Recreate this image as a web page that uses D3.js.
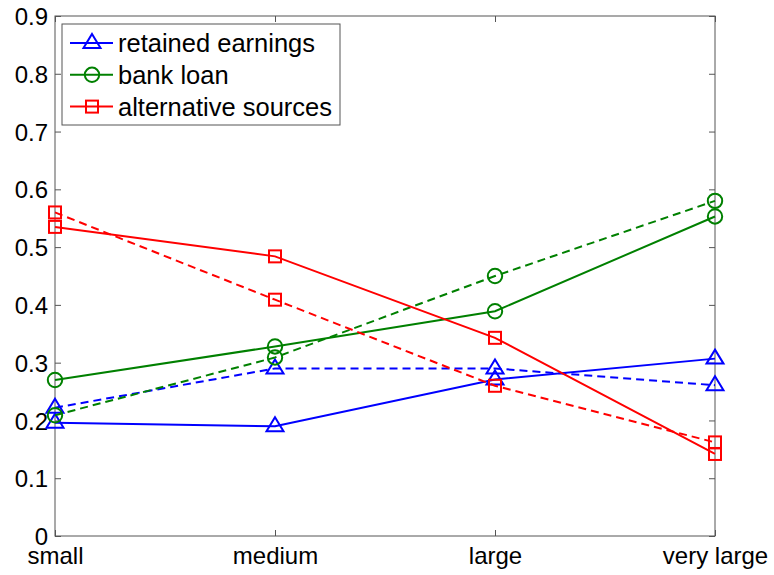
<!DOCTYPE html>
<html>
<head>
<meta charset="utf-8">
<script src="https://cdn.jsdelivr.net/npm/d3@7"></script>
<style>
  html, body { margin: 0; padding: 0; background: #fff; }
  svg text { font-family: "Liberation Sans", Arial, Helvetica, sans-serif; }
</style>
</head>
<body>
<svg id="chart" width="774" height="575"></svg>
<script>
// Firm size categories on the x axis
const categories = ["small", "medium", "large", "very large"];
const yTicks = [0, 0.1, 0.2, 0.3, 0.4, 0.5, 0.6, 0.7, 0.8, 0.9];

// Shares of financing sources (solid = one sample, dashed = the other)
const retainedSolid = [0.196, 0.190, 0.271, 0.307];
const retainedDashed = [0.222, 0.290, 0.290, 0.261];
const bankSolid = [0.270, 0.328, 0.389, 0.553];
const bankDashed = [0.209, 0.309, 0.450, 0.580];
const altSolid = [0.535, 0.484, 0.343, 0.142];
const altDashed = [0.560, 0.409, 0.260, 0.162];

const seriesNames = ["retained earnings", "bank loan", "alternative sources"];

const series = [
  { name: seriesNames[0], values: retainedSolid, color: "#0000ff", marker: "triangle", dashed: false },
  { name: seriesNames[0], values: retainedDashed, color: "#0000ff", marker: "triangle", dashed: true },
  { name: seriesNames[1], values: bankSolid, color: "#008000", marker: "circle", dashed: false },
  { name: seriesNames[1], values: bankDashed, color: "#008000", marker: "circle", dashed: true },
  { name: seriesNames[2], values: altSolid, color: "#ff0000", marker: "square", dashed: false },
  { name: seriesNames[2], values: altDashed, color: "#ff0000", marker: "square", dashed: true }
];

const svg = d3.select("#chart");
const plotLeft = 55, plotRight = 715, plotTop = 16, plotBottom = 536;

const x = d3.scalePoint().domain(categories).range([plotLeft, plotRight]);
const y = d3.scaleLinear().domain([0, 0.9]).range([plotBottom, plotTop]);

const axisColor = "#555";

// Frame
svg.append("rect")
  .attr("x", plotLeft).attr("y", plotTop)
  .attr("width", plotRight - plotLeft).attr("height", plotBottom - plotTop)
  .attr("fill", "none").attr("stroke", axisColor).attr("stroke-width", 1);

// Axes with inward ticks
const yAxisL = svg.append("g").attr("transform", `translate(${plotLeft},0)`)
  .call(d3.axisLeft(y).tickValues(yTicks).tickSize(-6).tickPadding(7).tickFormat(d => d === 0 ? "0" : d3.format(".1f")(d)));
const yAxisR = svg.append("g").attr("transform", `translate(${plotRight},0)`)
  .call(d3.axisRight(y).tickValues(yTicks).tickSize(-6).tickFormat(""));
const xAxisB = svg.append("g").attr("transform", `translate(0,${plotBottom})`)
  .call(d3.axisBottom(x).tickSize(-6));
const xAxisT = svg.append("g").attr("transform", `translate(0,${plotTop})`)
  .call(d3.axisTop(x).tickSize(-6).tickFormat(""));

[yAxisL, yAxisR, xAxisB, xAxisT].forEach(g => {
  g.select(".domain").remove();
  g.selectAll(".tick line").attr("stroke", axisColor);
});
yAxisL.selectAll("text").attr("font-size", 24).attr("fill", "#000").attr("dy", "0.36em");
xAxisB.selectAll("text").attr("font-size", 24).attr("fill", "#000").attr("y", 28).attr("dy", 0);

// Marker drawing
function drawMarker(g, type, color) {
  if (type === "triangle") {
    g.append("path").attr("d", "M0,-9 L8.5,5 L-8.5,5 Z");
  } else if (type === "circle") {
    g.append("circle").attr("r", 7.2);
  } else {
    g.append("rect").attr("x", -6).attr("y", -6).attr("width", 12).attr("height", 12);
  }
  g.selectAll("*").attr("fill", "none").attr("stroke", color).attr("stroke-width", 2);
}

const line = d3.line().x((d, i) => x(categories[i])).y(d => y(d));

series.forEach(s => {
  const g = svg.append("g");
  g.append("path")
    .attr("d", line(s.values))
    .attr("fill", "none")
    .attr("stroke", s.color)
    .attr("stroke-width", 2)
    .attr("stroke-dasharray", s.dashed ? "8,5" : null);
  s.values.forEach((v, i) => {
    const m = g.append("g").attr("transform", `translate(${x(categories[i])},${y(v)})`);
    drawMarker(m, s.marker, s.color);
  });
});

// Legend
const legend = svg.append("g");
legend.append("rect")
  .attr("x", 62).attr("y", 24).attr("width", 278).attr("height", 101)
  .attr("fill", "#fff").attr("stroke", axisColor).attr("stroke-width", 1);
const legendItems = [series[0], series[2], series[4]];
legendItems.forEach((s, i) => {
  const cy = 43 + i * 31.8;
  legend.append("line")
    .attr("x1", 70).attr("x2", 113).attr("y1", cy).attr("y2", cy)
    .attr("stroke", s.color).attr("stroke-width", 2);
  const m = legend.append("g").attr("transform", `translate(92,${cy})`);
  drawMarker(m, s.marker, s.color);
  legend.append("text")
    .attr("x", 118).attr("y", cy).attr("dy", "0.35em")
    .attr("font-size", 25.5).attr("fill", "#000")
    .text(s.name);
});
</script>
</body>
</html>
